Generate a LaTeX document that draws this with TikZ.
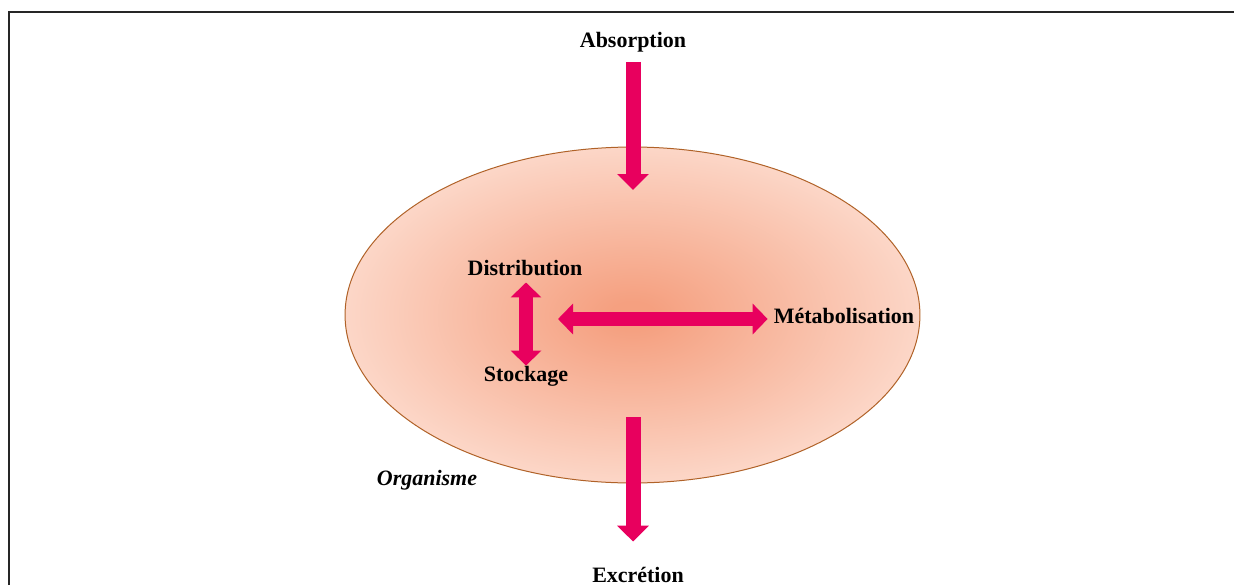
\documentclass[tikz,border=0pt]{standalone}
\usepackage{fontspec}
\setmainfont{Liberation Serif}
\usetikzlibrary{arrows.meta}
\definecolor{pump}{RGB}{232,0,94}
\definecolor{orgin}{RGB}{245,160,128}
\definecolor{orgout}{RGB}{254,231,221}
\definecolor{orgline}{RGB}{176,98,40}
\pgfdeclareradialshading{organ}{\pgfpoint{0bp}{0bp}}{color(0bp)=(orgin); color(2bp)=(orgin); color(32bp)=(orgout); color(72bp)=(orgout)}
\tikzset{
  lbl/.style={font=\fontsize{12.5}{15}\selectfont\bfseries, anchor=base},
  flow/.style={draw=pump, line width=0.3cm, -{Triangle[length=0.32cm,width=0.62cm]}},
  flow2/.style={draw=pump, line width=0.27cm, {Triangle[length=0.3cm,width=0.6cm]}-{Triangle[length=0.3cm,width=0.6cm]}}
}
\begin{document}
\begin{tikzpicture}[x=0.02cm,y=-0.02cm]
  \useasboundingbox (0,0) rectangle (1234,585);
  % frame
  \draw[line width=0.04cm,black!85] (9,585) -- (9,11.5) -- (1234,11.5);
  % the organism
  \draw[orgline, line width=0.02cm, shading=organ] (632.5,315) ellipse [x radius=5.75cm, y radius=3.36cm];
  \node[lbl]          (absn)  at (633,47)  {Absorption};
  \node[lbl]          (excn)  at (638,582) {Excrétion};
  \node[lbl]          (dist)  at (525,275) {Distribution};
  \node[lbl]          (stock) at (526,381) {Stockage};
  \node[lbl]          (meta)  at (844,323) {Métabolisation};
  \node[lbl,font=\fontsize{12.5}{15}\selectfont\bfseries\itshape]
                      (org)   at (427,485) {Organisme};
  \coordinate         (absin)  at (633,190);
  \coordinate         (excout) at (633,417);
  \coordinate         (hub)    at (558,319);
  % arrows
  \draw[flow, shorten <=0.08cm] (absn.south) -- (absin);
  \draw[flow] (excout) -- (excout |- excn.north) [shorten >=0.38cm];
  \draw[flow2, shorten <=0.02cm, shorten >=-0.12cm] (dist.south -| 526,0) -- (stock.north -| 526,0);
  \draw[flow2] (hub) -- (hub -| meta.west);
\end{tikzpicture}
\end{document}
